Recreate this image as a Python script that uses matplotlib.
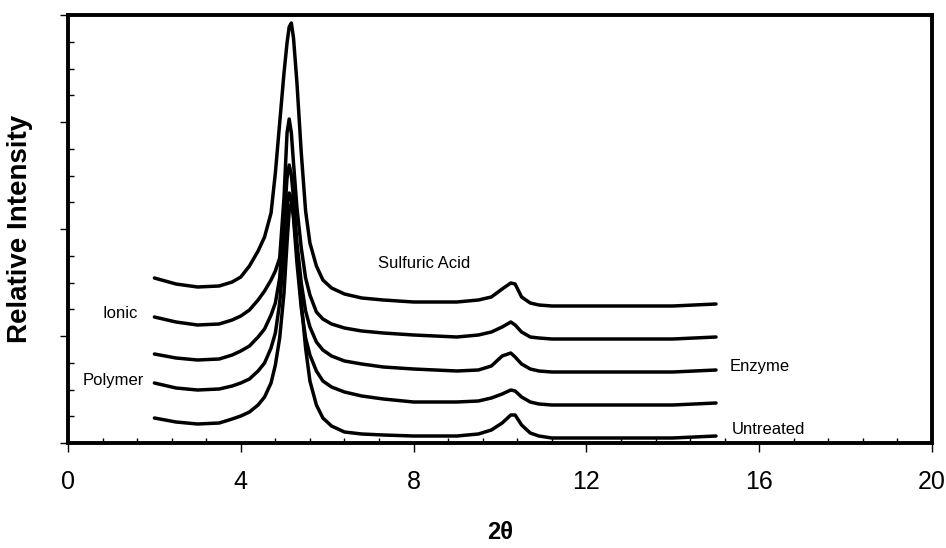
import matplotlib
matplotlib.use("Agg")
import matplotlib.pyplot as plt
from matplotlib.ticker import MultipleLocator

plt.rcParams['font.family'] = ['Liberation Sans', 'DejaVu Sans']

# 2-theta grid shared by all patterns
two_theta = [2.0, 2.5, 3.0, 3.5, 3.8, 4.0, 4.2, 4.4, 4.55, 4.7, 4.8, 4.9, 5.0,
             5.07, 5.12, 5.17, 5.22, 5.3, 5.4, 5.5, 5.6, 5.75, 5.9, 6.1, 6.4,
             6.8, 7.3, 8.0, 9.0, 9.5, 9.8, 10.05, 10.25, 10.35, 10.5, 10.7,
             10.9, 11.2, 12.0, 13.0, 14.0, 15.0]

# relative intensities (arbitrary units, offset patterns)
sulfuric = [165, 159, 156, 157, 161, 166, 177, 192, 206, 230, 270, 320, 370,
            400, 416, 420, 405, 360, 290, 232, 200, 177, 163, 155, 149,
            145, 143, 141, 141, 143, 146, 154, 160, 159, 146, 140,
            138, 137, 137, 137, 137, 139]
ionic = [126, 121, 118, 119, 123, 127, 133, 143, 152, 163, 172, 185, 245,
         310, 324, 310, 280, 235, 195, 165, 148, 131, 124, 119, 115,
         112, 110, 108, 106, 108, 111, 116, 121, 118, 111, 106,
         105, 104, 104, 104, 104, 106]
enzyme = [89, 85, 83, 84, 88, 92, 97, 106, 114, 128, 140, 165, 220,
          265, 278, 268, 245, 200, 160, 132, 116, 101, 93, 87, 82,
          79, 76, 74, 72, 73, 77, 87, 90, 86, 79, 74,
          72, 71, 71, 71, 71, 73]
polymer = [60, 55, 53, 54, 57, 60, 64, 72, 80, 95, 110, 140, 190,
           235, 250, 245, 225, 180, 135, 105, 88, 72, 62, 56, 51,
           47, 44, 41, 41, 42, 45, 49, 53, 52, 46, 41,
           39, 38, 38, 38, 38, 40]
untreated = [25, 21, 19, 20, 24, 27, 31, 38, 46, 60, 78, 105, 150,
             200, 232, 240, 228, 190, 140, 95, 62, 38, 25, 17, 11,
             9, 8, 7, 7, 9, 13, 20, 28, 28, 18, 10,
             7, 5, 5, 5, 5, 7]

series = [sulfuric, ionic, enzyme, polymer, untreated]

labels = ["Sulfuric Acid", "Ionic", "Polymer", "Enzyme", "Untreated"]
label_x = [7.18, 0.81, 0.35, 15.32, 15.37]
label_y = [180, 130, 62, 77, 14]

x_ticks = [0, 4, 8, 12, 16, 20]

fig = plt.figure(figsize=(9.46, 5.48), dpi=100)
ax = fig.add_axes([68/946, 1-443/548, 864/946, 428/548])

for s in series:
    ax.plot(two_theta, s, color='black', lw=2.5, solid_joinstyle='round',
            solid_capstyle='round')

for t, xx, yy in zip(labels, label_x, label_y):
    ax.text(xx, yy, t, fontsize=12, ha='left', va='center', color='black')

ax.set_xlim(0, 20)
ax.set_ylim(0, 428)
ax.set_xticks(x_ticks)
ax.set_xticklabels([str(v) for v in x_ticks])
ax.xaxis.set_minor_locator(MultipleLocator(0.8))
ax.yaxis.set_major_locator(MultipleLocator(107))
ax.yaxis.set_minor_locator(MultipleLocator(26.75))
ax.set_yticklabels([])

ax.tick_params(axis='x', which='major', direction='out', length=6.5, width=1.0,
               labelsize=18, pad=13)
ax.tick_params(axis='x', which='minor', direction='in', length=3.6, width=1.0)
ax.tick_params(axis='y', which='major', direction='out', length=6, width=1.0)
ax.tick_params(axis='y', which='minor', direction='in', length=4, width=1.0)
for sp in ax.spines.values():
    sp.set_linewidth(2.8)

ax.set_xlabel("2θ", fontsize=17, fontweight='bold')
ax.xaxis.set_label_coords(0.5, -0.182)
ax.set_ylabel("Relative Intensity", fontsize=20, fontweight='bold')
ax.yaxis.set_label_coords(-0.0405, 0.5)

fig.savefig("out.png", dpi=100)
